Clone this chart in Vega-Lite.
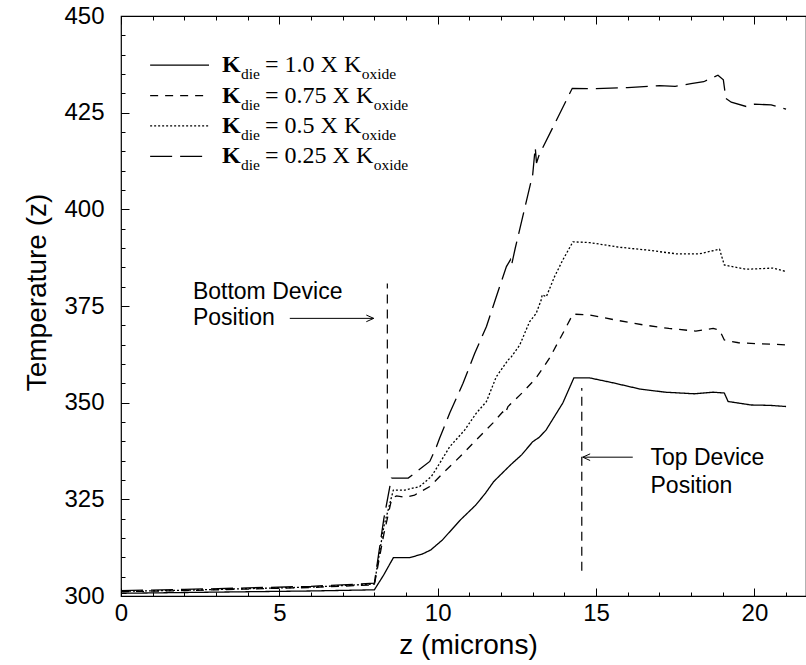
{
  "$schema": "https://vega.github.io/schema/vega-lite/v6.json",
  "width": 685,
  "height": 580,
  "autosize": "none",
  "padding": {"left": 121, "top": 16, "right": 0, "bottom": 69},
  "background": "white",
  "config": {
    "view": {"stroke": "black", "strokeWidth": 1.2},
    "axis": {"labelColor": "black", "titleColor": "black", "labelFont": "Liberation Sans", "titleFont": "Liberation Sans", "titleFontWeight": "normal", "labelFlush": false, "labelOverlap": false}
  },
  "datasets": {
    "series": [
      {"s": "1.0", "z": 0, "T": 300.7}, {"s": "1.0", "z": 2, "T": 300.9}, {"s": "1.0", "z": 4, "T": 301.1}, {"s": "1.0", "z": 6, "T": 301.3}, {"s": "1.0", "z": 8.0, "T": 301.6},
      {"s": "1.0", "z": 8.3, "T": 305.5}, {"s": "1.0", "z": 8.6, "T": 309.9}, {"s": "1.0", "z": 9.1, "T": 309.9}, {"s": "1.0", "z": 9.5, "T": 310.8}, {"s": "1.0", "z": 9.78, "T": 311.9},
      {"s": "1.0", "z": 10.15, "T": 314.5}, {"s": "1.0", "z": 10.72, "T": 319.7}, {"s": "1.0", "z": 11.2, "T": 323.5}, {"s": "1.0", "z": 11.5, "T": 326.5}, {"s": "1.0", "z": 11.77, "T": 329.6},
      {"s": "1.0", "z": 12.3, "T": 333.9}, {"s": "1.0", "z": 12.65, "T": 336.5}, {"s": "1.0", "z": 13.0, "T": 339.9}, {"s": "1.0", "z": 13.2, "T": 341.0}, {"s": "1.0", "z": 13.42, "T": 342.9},
      {"s": "1.0", "z": 13.95, "T": 349.9}, {"s": "1.0", "z": 14.3, "T": 356.4}, {"s": "1.0", "z": 14.8, "T": 356.4}, {"s": "1.0", "z": 15.5, "T": 355.2}, {"s": "1.0", "z": 16.4, "T": 353.5},
      {"s": "1.0", "z": 17.2, "T": 352.7}, {"s": "1.0", "z": 18.1, "T": 352.3}, {"s": "1.0", "z": 18.7, "T": 352.7}, {"s": "1.0", "z": 19.05, "T": 352.5}, {"s": "1.0", "z": 19.17, "T": 350.3},
      {"s": "1.0", "z": 19.9, "T": 349.4}, {"s": "1.0", "z": 20.5, "T": 349.3}, {"s": "1.0", "z": 21, "T": 349.0},

      {"s": "0.75", "z": 0, "T": 301.1}, {"s": "0.75", "z": 2, "T": 301.4}, {"s": "0.75", "z": 4, "T": 301.8}, {"s": "0.75", "z": 6, "T": 302.2}, {"s": "0.75", "z": 8.0, "T": 302.9},
      {"s": "0.75", "z": 8.3, "T": 316.0}, {"s": "0.75", "z": 8.55, "T": 325.2}, {"s": "0.75", "z": 8.7, "T": 325.9}, {"s": "0.75", "z": 8.96, "T": 325.5}, {"s": "0.75", "z": 9.27, "T": 326.1},
      {"s": "0.75", "z": 9.75, "T": 328.3}, {"s": "0.75", "z": 10.22, "T": 332.2}, {"s": "0.75", "z": 10.7, "T": 336.0}, {"s": "0.75", "z": 11.22, "T": 340.4}, {"s": "0.75", "z": 11.74, "T": 344.7},
      {"s": "0.75", "z": 12.05, "T": 347.6}, {"s": "0.75", "z": 12.12, "T": 347.0}, {"s": "0.75", "z": 12.22, "T": 349.0}, {"s": "0.75", "z": 12.7, "T": 352.8}, {"s": "0.75", "z": 13.1, "T": 356.3},
      {"s": "0.75", "z": 13.53, "T": 361.5}, {"s": "0.75", "z": 13.95, "T": 367.9}, {"s": "0.75", "z": 14.27, "T": 372.9}, {"s": "0.75", "z": 14.8, "T": 372.7}, {"s": "0.75", "z": 15.6, "T": 371.4},
      {"s": "0.75", "z": 16.5, "T": 370.1}, {"s": "0.75", "z": 17.3, "T": 369.2}, {"s": "0.75", "z": 18.15, "T": 368.5}, {"s": "0.75", "z": 18.7, "T": 369.2}, {"s": "0.75", "z": 18.9, "T": 368.8},
      {"s": "0.75", "z": 19.05, "T": 366.2}, {"s": "0.75", "z": 19.5, "T": 365.5}, {"s": "0.75", "z": 20.2, "T": 365.2}, {"s": "0.75", "z": 20.7, "T": 365.1}, {"s": "0.75", "z": 21, "T": 364.9},

      {"s": "0.5", "z": 0, "T": 301.2}, {"s": "0.5", "z": 2, "T": 301.5}, {"s": "0.5", "z": 4, "T": 301.9}, {"s": "0.5", "z": 6, "T": 302.3}, {"s": "0.5", "z": 8.0, "T": 303.1},
      {"s": "0.5", "z": 8.3, "T": 318.0}, {"s": "0.5", "z": 8.6, "T": 327.4}, {"s": "0.5", "z": 8.96, "T": 327.4}, {"s": "0.5", "z": 9.43, "T": 328.3}, {"s": "0.5", "z": 9.8, "T": 330.9},
      {"s": "0.5", "z": 10.06, "T": 334.3}, {"s": "0.5", "z": 10.38, "T": 338.6}, {"s": "0.5", "z": 10.85, "T": 342.9}, {"s": "0.5", "z": 11.22, "T": 347.3}, {"s": "0.5", "z": 11.54, "T": 350.3},
      {"s": "0.5", "z": 11.85, "T": 356.7}, {"s": "0.5", "z": 12.22, "T": 361.0}, {"s": "0.5", "z": 12.33, "T": 361.9}, {"s": "0.5", "z": 12.59, "T": 364.9}, {"s": "0.5", "z": 12.9, "T": 370.9},
      {"s": "0.5", "z": 13.11, "T": 373.1}, {"s": "0.5", "z": 13.27, "T": 376.6}, {"s": "0.5", "z": 13.3, "T": 377.9}, {"s": "0.5", "z": 13.43, "T": 377.4}, {"s": "0.5", "z": 13.69, "T": 382.6},
      {"s": "0.5", "z": 13.95, "T": 386.9}, {"s": "0.5", "z": 14.27, "T": 391.6}, {"s": "0.5", "z": 14.8, "T": 391.4}, {"s": "0.5", "z": 15.74, "T": 390.2}, {"s": "0.5", "z": 16.58, "T": 389.5},
      {"s": "0.5", "z": 17.53, "T": 388.5}, {"s": "0.5", "z": 18.27, "T": 388.5}, {"s": "0.5", "z": 18.9, "T": 389.7}, {"s": "0.5", "z": 19.05, "T": 385.6}, {"s": "0.5", "z": 19.74, "T": 384.5},
      {"s": "0.5", "z": 20.58, "T": 384.8}, {"s": "0.5", "z": 21, "T": 383.9},

      {"s": "0.25", "z": 0, "T": 301.4}, {"s": "0.25", "z": 2, "T": 301.7}, {"s": "0.25", "z": 4, "T": 302.1}, {"s": "0.25", "z": 6, "T": 302.5}, {"s": "0.25", "z": 8.0, "T": 303.3},
      {"s": "0.25", "z": 8.3, "T": 320.0}, {"s": "0.25", "z": 8.54, "T": 330.5}, {"s": "0.25", "z": 9.07, "T": 330.5}, {"s": "0.25", "z": 9.75, "T": 334.8}, {"s": "0.25", "z": 9.96, "T": 338.6},
      {"s": "0.25", "z": 10.06, "T": 340.8}, {"s": "0.25", "z": 10.38, "T": 347.3}, {"s": "0.25", "z": 10.8, "T": 355.0}, {"s": "0.25", "z": 11.17, "T": 362.8}, {"s": "0.25", "z": 11.54, "T": 369.7},
      {"s": "0.25", "z": 11.85, "T": 377.4}, {"s": "0.25", "z": 12.17, "T": 385.2}, {"s": "0.25", "z": 12.3, "T": 387.0}, {"s": "0.25", "z": 12.33, "T": 385.5}, {"s": "0.25", "z": 12.45, "T": 390.0},
      {"s": "0.25", "z": 13.0, "T": 409.0}, {"s": "0.25", "z": 13.08, "T": 416.0}, {"s": "0.25", "z": 13.12, "T": 412.0}, {"s": "0.25", "z": 13.2, "T": 414.0}, {"s": "0.25", "z": 14.25, "T": 431.3},
      {"s": "0.25", "z": 15.0, "T": 431.2}, {"s": "0.25", "z": 16.0, "T": 431.5}, {"s": "0.25", "z": 17.0, "T": 432.0}, {"s": "0.25", "z": 17.5, "T": 431.8}, {"s": "0.25", "z": 18.0, "T": 432.5},
      {"s": "0.25", "z": 18.4, "T": 433.0}, {"s": "0.25", "z": 18.85, "T": 434.7}, {"s": "0.25", "z": 19.02, "T": 433.5}, {"s": "0.25", "z": 19.1, "T": 428.7}, {"s": "0.25", "z": 19.27, "T": 427.7},
      {"s": "0.25", "z": 19.74, "T": 426.6}, {"s": "0.25", "z": 20.0, "T": 427.2}, {"s": "0.25", "z": 20.53, "T": 427.0}, {"s": "0.25", "z": 21, "T": 425.9}
    ],
    "legend": [
      {"s": "1.0", "eq": "= 1.0 X K", "y": 437.3, "ox": 7.6},
      {"s": "0.75", "eq": "= 0.75 X K", "y": 429.4, "ox": 7.98},
      {"s": "0.5", "eq": "= 0.5 X K", "y": 421.6, "ox": 7.6},
      {"s": "0.25", "eq": "= 0.25 X K", "y": 413.7, "ox": 7.98}
    ],
    "vlines": [
      {"x": 8.41, "y1": 333.0, "y2": 380.8},
      {"x": 14.55, "y1": 306.5, "y2": 353.8}
    ],
    "arrows": [
      {"x1": 5.33, "x2": 7.98, "y": 371.8, "d": "right"},
      {"x1": 16.16, "x2": 14.58, "y": 335.9, "d": "left"}
    ],
    "notes": [
      {"t": "Bottom Device", "x": 2.27, "y": 378.7},
      {"t": "Position", "x": 2.27, "y": 371.9},
      {"t": "Top Device", "x": 16.72, "y": 335.8},
      {"t": "Position", "x": 16.72, "y": 328.5}
    ]
  },
  "resolve": {"axis": {"x": "independent", "y": "independent"}},
  "layer": [
    {
      "data": {"name": "series"},
      "mark": {"type": "line", "stroke": "black", "strokeWidth": 1.3},
      "encoding": {
        "x": {"field": "z", "type": "quantitative", "scale": {"domain": [0, 21.63], "nice": false, "zero": false},
          "axis": {"orient": "bottom", "values": [0, 5, 10, 15, 20], "ticks": false, "domain": false, "grid": false, "labelFontSize": 24, "labelPadding": 5,
            "title": "z (microns)", "titleFontSize": 28, "titleX": 347, "titleY": 49, "titleBaseline": "middle", "titleAnchor": "middle"}},
        "y": {"field": "T", "type": "quantitative", "scale": {"domain": [300, 450], "nice": false, "zero": false},
          "axis": {"orient": "left", "values": [300, 325, 350, 375, 400, 425, 450], "ticks": false, "domain": false, "grid": false, "labelFontSize": 24, "labelPadding": 17,
            "title": "Temperature (z)", "titleFontSize": 28, "titleX": -84, "titleY": 276, "titleBaseline": "middle", "titleAnchor": "middle", "titleAngle": -90}},
        "strokeDash": {"field": "s", "type": "nominal", "scale": {"domain": ["1.0", "0.75", "0.5", "0.25"], "range": [[1, 0], [8, 7], [2, 2], [22, 8]]}, "legend": null}
      }
    },
    {
      "data": {"name": "series"},
      "mark": {"type": "line", "stroke": "white", "strokeWidth": 0},
      "encoding": {
        "x": {"field": "z", "type": "quantitative", "axis": {"orient": "bottom", "values": [0, 5, 10, 15, 20], "tickSize": -8, "tickWidth": 1, "tickColor": "black", "labels": false, "domain": false, "grid": false, "title": null}},
        "y": {"field": "T", "type": "quantitative", "axis": {"orient": "left", "values": [300, 325, 350, 375, 400, 425, 450], "tickSize": -8, "tickWidth": 1, "tickColor": "black", "labels": false, "domain": false, "grid": false, "title": null}},
        "detail": {"field": "s"}
      }
    },
    {
      "data": {"name": "series"},
      "mark": {"type": "line", "stroke": "white", "strokeWidth": 0},
      "encoding": {
        "x": {"field": "z", "type": "quantitative", "axis": {"orient": "bottom", "values": [0, 1, 2, 3, 4, 5, 6, 7, 8, 9, 10, 11, 12, 13, 14, 15, 16, 17, 18, 19, 20, 21], "tickSize": -4, "tickWidth": 1, "tickColor": "black", "labels": false, "domain": false, "grid": false, "title": null}},
        "y": {"field": "T", "type": "quantitative", "axis": {"orient": "left", "values": [300, 305, 310, 315, 320, 325, 330, 335, 340, 345, 350, 355, 360, 365, 370, 375, 380, 385, 390, 395, 400, 405, 410, 415, 420, 425, 430, 435, 440, 445, 450], "tickSize": -4, "tickWidth": 1, "tickColor": "black", "labels": false, "domain": false, "grid": false, "title": null}},
        "detail": {"field": "s"}
      }
    },
    {
      "data": {"name": "series"},
      "mark": {"type": "line", "stroke": "white", "strokeWidth": 0},
      "encoding": {
        "x": {"field": "z", "type": "quantitative", "axis": {"orient": "top", "values": [0, 5, 10, 15, 20], "tickSize": -8, "tickWidth": 1, "tickColor": "black", "labels": false, "domain": false, "grid": false, "title": null}},
        "y": {"field": "T", "type": "quantitative", "axis": null},
        "detail": {"field": "s"}
      }
    },
    {
      "data": {"name": "series"},
      "mark": {"type": "line", "stroke": "white", "strokeWidth": 0},
      "encoding": {
        "x": {"field": "z", "type": "quantitative", "axis": {"orient": "top", "values": [0, 1, 2, 3, 4, 5, 6, 7, 8, 9, 10, 11, 12, 13, 14, 15, 16, 17, 18, 19, 20, 21], "tickSize": -4, "tickWidth": 1, "tickColor": "black", "labels": false, "domain": false, "grid": false, "title": null}},
        "y": {"field": "T", "type": "quantitative", "axis": null},
        "detail": {"field": "s"}
      }
    },
    {
      "data": {"name": "legend"},
      "mark": {"type": "rule", "stroke": "black", "strokeWidth": 1.3},
      "encoding": {
        "x": {"datum": 0.92, "type": "quantitative", "axis": null},
        "x2": {"datum": 2.78},
        "y": {"field": "y", "type": "quantitative", "axis": null},
        "strokeDash": {"field": "s", "type": "nominal", "legend": null}
      }
    },
    {
      "data": {"name": "legend"},
      "mark": {"type": "text", "text": "K", "font": "Liberation Serif", "fontWeight": "bold", "fontSize": 24, "align": "left", "baseline": "middle"},
      "encoding": {
        "x": {"datum": 3.19, "type": "quantitative", "axis": null},
        "y": {"field": "y", "type": "quantitative", "axis": null}
      }
    },
    {
      "data": {"name": "legend"},
      "mark": {"type": "text", "text": "die", "font": "Liberation Serif", "fontSize": 15.5, "align": "left", "baseline": "middle", "dx": 19, "dy": 9},
      "encoding": {
        "x": {"datum": 3.19, "type": "quantitative", "axis": null},
        "y": {"field": "y", "type": "quantitative", "axis": null}
      }
    },
    {
      "data": {"name": "legend"},
      "mark": {"type": "text", "font": "Liberation Serif", "fontSize": 24, "align": "left", "baseline": "middle", "dx": 43},
      "encoding": {
        "x": {"datum": 3.19, "type": "quantitative", "axis": null},
        "y": {"field": "y", "type": "quantitative", "axis": null},
        "text": {"field": "eq"}
      }
    },
    {
      "data": {"name": "legend"},
      "mark": {"type": "text", "text": "oxide", "font": "Liberation Serif", "fontSize": 15.5, "align": "left", "baseline": "middle", "dy": 9},
      "encoding": {
        "x": {"field": "ox", "type": "quantitative", "axis": null},
        "y": {"field": "y", "type": "quantitative", "axis": null}
      }
    },
    {
      "data": {"name": "vlines"},
      "mark": {"type": "rule", "stroke": "black", "strokeWidth": 1.2, "strokeDash": [9, 6]},
      "encoding": {
        "x": {"field": "x", "type": "quantitative", "axis": null},
        "y": {"field": "y1", "type": "quantitative", "axis": null},
        "y2": {"field": "y2"}
      }
    },
    {
      "data": {"name": "arrows"},
      "mark": {"type": "rule", "stroke": "black", "strokeWidth": 1},
      "encoding": {
        "x": {"field": "x1", "type": "quantitative", "axis": null},
        "x2": {"field": "x2"},
        "y": {"field": "y", "type": "quantitative", "axis": null}
      }
    },
    {
      "data": {"name": "arrows"},
      "mark": {"type": "point", "filled": false, "stroke": "black", "strokeWidth": 1, "size": 220, "opacity": 1},
      "encoding": {
        "x": {"field": "x2", "type": "quantitative", "axis": null},
        "y": {"field": "y", "type": "quantitative", "axis": null},
        "shape": {"field": "d", "type": "nominal", "scale": {"domain": ["right", "left"], "range": ["M-1,-0.45L0,0L-1,0.45", "M1,-0.45L0,0L1,0.45"]}, "legend": null}
      }
    },
    {
      "data": {"name": "notes"},
      "mark": {"type": "text", "font": "Liberation Sans", "fontSize": 23, "align": "left", "baseline": "middle", "color": "black"},
      "encoding": {
        "x": {"field": "x", "type": "quantitative", "axis": null},
        "y": {"field": "y", "type": "quantitative", "axis": null},
        "text": {"field": "t"}
      }
    }
  ]
}
